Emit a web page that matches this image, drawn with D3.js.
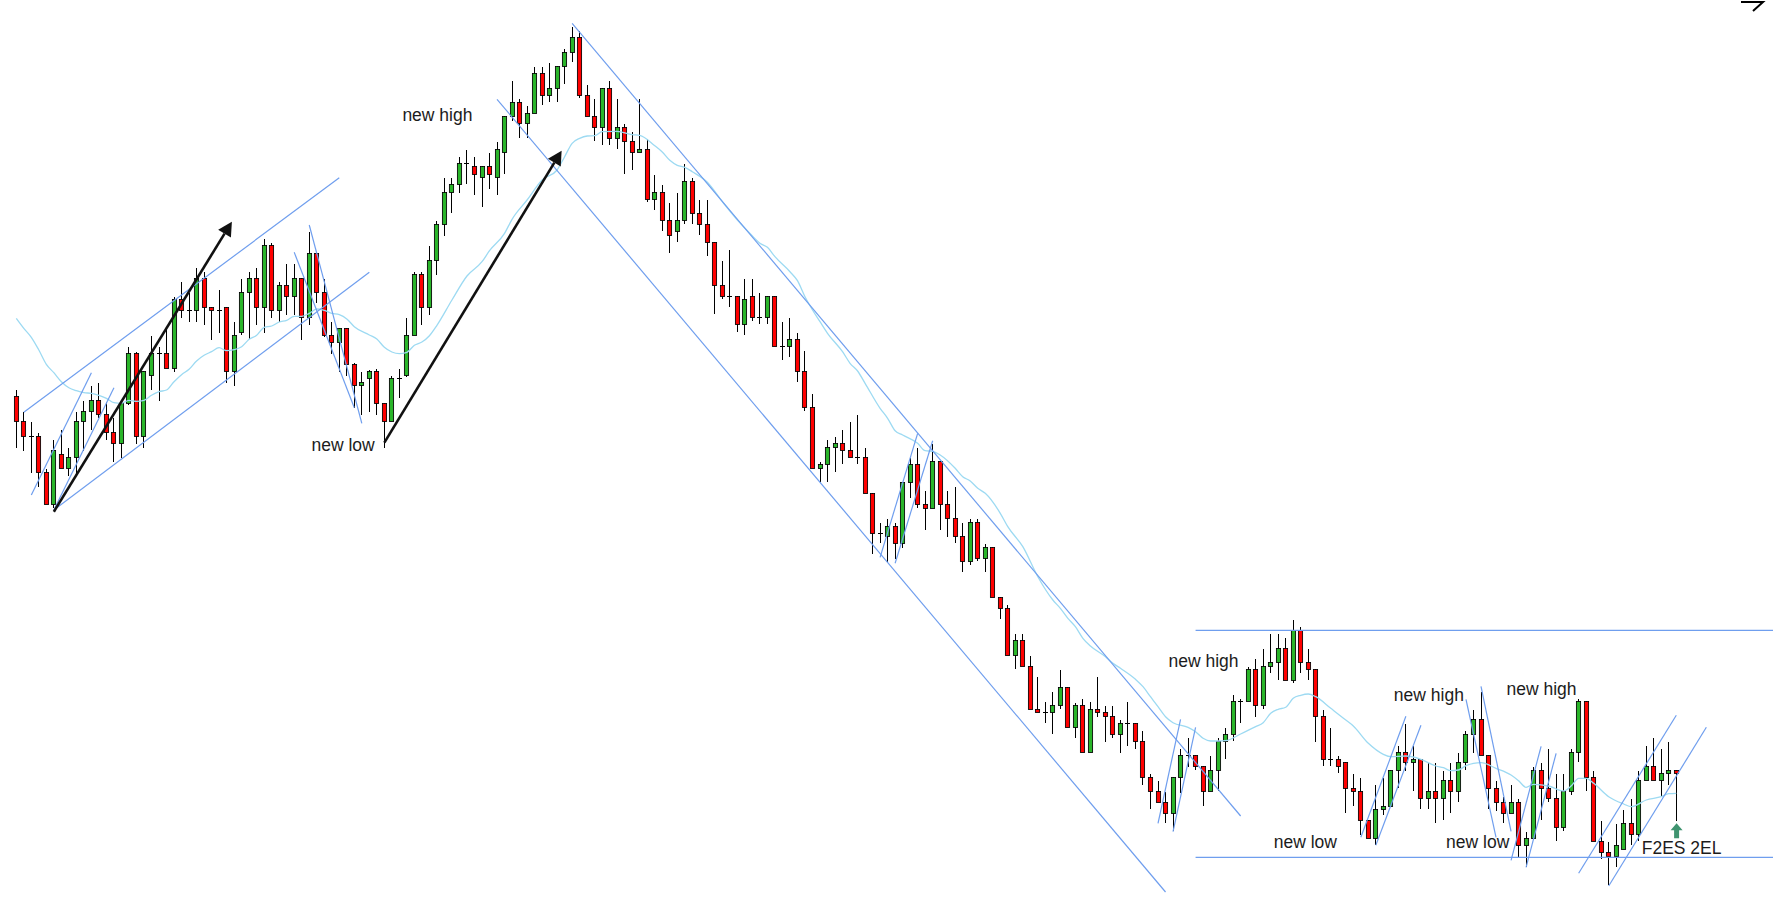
<!DOCTYPE html>
<html>
<head>
<meta charset="utf-8">
<script src="https://cdn.jsdelivr.net/npm/d3@7"></script>
<style>
  html, body { margin: 0; padding: 0; background: #fff; overflow: hidden; }
  svg { display: block; }
  text { font-family: "Liberation Sans", Arial, sans-serif; font-size: 17.5px; fill: #1c1c1c; }
</style>
</head>
<body>
<div id="chart"></div>
<script>
/* DATA, price is in arbitrary chart units */
const opens = [517.3,492.7,477.7,477.7,441.7,409.7,459.7,445.7,456.7,492.7,502.7,513.7,499.7,481.7,470.7,510.7,560.7,477.7,538.7,560.7,
  560.7,545.7,614.7,603.7,603.7,635.7,606.7,603.7,606.7,542.7,581.7,621.7,635.7,606.7,668.7,603.7,628.7,617.7,635.7,596.7,
  660.7,621.7,578.7,571.7,585.7,549.7,528.7,535.7,542.7,510.7,492.7,535.7,538.7,578.7,639.7,606.7,653.7,689.7,721.7,729.7,
  750.7,747.7,736.7,747.7,736.7,761.7,797.7,811.7,790.7,800.7,840.7,818.7,825.7,847.7,861.7,876.7,818.7,797.7,786.7,825.7,
  775.7,786.7,772.7,761.7,764.7,714.7,721.7,693.7,682.7,693.7,732.7,700.7,689.7,671.7,628.7,617.7,617.7,589.7,617.7,596.7,
  596.7,617.7,567.7,567.7,574.7,542.7,506.7,445.7,449.7,466.7,470.7,463.7,456.7,456.7,420.7,380.7,377.7,387.7,370.7,431.7,
  449.7,409.7,405.7,452.7,409.7,395.7,377.7,352.7,391.7,355.7,366.7,316.7,305.7,258.7,273.7,247.7,204.7,201.7,201.7,208.7,
  226.7,186.7,208.7,161.7,204.7,201.7,197.7,179.7,190.7,190.7,172.7,136.7,122.7,111.7,100.7,136.7,158.7,158.7,147.7,122.7,
  143.7,172.7,179.7,212.7,212.7,244.7,208.7,247.7,251.7,265.7,233.7,283.7,251.7,244.7,197.7,154.7,154.7,151.7,125.7,122.7,
  93.7,75.7,104.7,107.7,143.7,161.7,151.7,154.7,115.7,122.7,115.7,133.7,122.7,151.7,179.7,194.7,158.7,125.7,111.7,100.7,
  111.7,68.7,75.7,143.7,125.7,115.7,86.7,122.7,161.7,212.7,136.7,72.7,61.7,57.7,64.7,90.7,79.7,133.7,147.7,133.7,
  140.7,143.7];
const highs = [523.7,501.7,491.7,480.7,444.7,473.7,483.7,466,501.7,512.7,527.7,530.7,511.7,496,514,566.7,562.3,542.7,577.7,566.7,
  586,616.7,631.7,620.7,645.7,641.7,606.7,623.7,606.7,591.7,634.7,641.7,645.7,674.7,670.7,631.7,649.7,649.7,636,681.7,
  660.7,634.7,591.7,585.7,586,550.7,542,544,544.7,510.7,538,544.7,595.7,641.7,641.7,667.7,692.7,735.7,735.7,756.7,
  763.7,756.7,747.7,760.7,771.7,797.7,832.7,814.7,807.7,846.7,846.7,850.7,847.7,864.7,886.7,882.7,828.7,814.7,825.7,832.7,
  814.7,789.7,781.7,814.7,774.7,738.7,728.7,710.7,720.7,749.7,735.7,713.7,713.7,671.7,652.7,663.7,617.7,634.7,634.7,620.7,
  617.7,617.7,591.7,595.7,580.7,562.7,519.7,451.7,473.7,476.7,483.7,491.7,498.7,465.7,420.7,390.7,394.7,390.7,431.7,455.7,
  465.7,422.7,469.7,452.7,422.7,426.7,390.7,394.7,394.7,369.7,366.7,316.7,308.7,279.7,279.7,257.7,236.7,211.7,221.7,243.7,
  226.7,210.7,214.7,211.7,236.7,207.7,207.7,193.7,211.7,190.7,182.7,139.7,132.7,121.7,136.7,165,175.7,158.7,147.7,157.7,
  175.7,185.7,218.7,214.7,246.7,254.7,264.7,279.7,279.7,275.7,293.7,286.7,264.7,244.7,203.7,185.7,157.7,151.7,139.7,135.7,
  93.7,128.7,135.7,143.7,167.7,189.7,167.7,154.7,150.7,150.7,142.7,150.7,160.7,182.7,203.7,221.7,158.7,132.7,117,128.7,
  114.7,81.7,146.7,150.7,164.7,139.7,139.7,164.7,214.7,212.7,142.7,92.7,71.7,89.7,103.7,114.7,142.7,167.7,175.7,164.7,
  171.7,143.7];
const lows = [466.3,463.3,441.3,427.3,409.7,405.7,445.7,438,439,463.3,484.3,495.7,474.3,452.3,456.3,509,469.7,466.3,524,513,
  545.7,542.3,596.3,592.3,592.3,589.3,574.3,581.3,531.3,528.3,578.7,574.7,588.7,581.3,596.3,592.3,598.7,598.7,574,589,
  610.7,577,560,541.7,538.3,506.3,499,502,499,466,492.7,515.7,537,578.7,589,598.7,639,678,700.7,721.3,
  729.7,718.7,707.3,725,718.7,739.7,793.3,775.7,775.7,800.7,808.7,811.7,811.7,829.7,851.7,815.7,797.7,772.7,768.7,768.7,
  764.7,739.7,743.7,761.7,711.7,703.7,682.7,660.7,671.7,689.7,689.7,678.7,657.7,599.7,614.7,606.7,581.7,578.7,592.7,589.7,
  589.7,567.7,553.7,556.7,531.7,502.7,445.7,431.7,431.7,441.7,449.7,456.7,449.7,420.7,359.7,370.7,351.7,355,366.3,415.7,
  405.7,384.3,405.7,384.3,377.3,370.7,341.7,348.7,352.7,341.7,316.7,294.7,258.7,244.7,247.7,204.7,201.7,190.7,179.7,204.7,
  186.7,176.3,161.7,161.7,196.7,172.3,176.3,161.3,168.3,165.3,129.3,104.7,111.7,90.7,82.7,120.7,147.3,143.7,107.7,122.7,
  122.7,154.7,172.7,190.7,212.7,197.3,204.7,240.7,233.7,233.7,230.7,240.7,233.7,172.3,147.7,147.7,140.7,100.7,107.7,78.7,
  75.7,68.7,99,107.7,125.7,143,122.7,104.7,104.7,90.7,93.7,100.7,111.7,143.7,160.7,158.7,104.7,102.7,90.7,100.7,
  56.7,46.7,75.7,93.7,111.7,72.7,82.7,118.7,151.7,122.7,72.7,54.7,28.7,46.7,64.7,68.7,72.7,133.7,133.7,117.7,
  128.7,92.7];
const closes = [492.7,477.7,477.7,441.7,409.7,463.7,445.7,456.7,492.7,502.7,513.7,499.7,481.7,470.7,510.7,560.7,477.7,542.7,560.7,560.7,
  545.7,614.7,603.7,603.7,635.7,606.7,603.7,603.7,542.7,578.7,621.7,635.7,606.7,668.7,603.7,628.7,617.7,635.7,596.7,660.7,
  621.7,578.7,571.7,585.7,549.7,528.7,531.7,542.7,510.7,492.7,535.7,535.7,578.7,639.7,606.7,653.7,689.7,721.7,729.7,750.7,
  750.7,739.7,747.7,739.7,764.7,797.7,811.7,790.7,800.7,840.7,818.7,825.7,847.7,861.7,876.7,818.7,797.7,786.7,825.7,775.7,
  786.7,772.7,761.7,764.7,714.7,721.7,693.7,678.7,693.7,732.7,700.7,689.7,671.7,628.7,617.7,617.7,589.7,614.7,596.7,596.7,
  617.7,567.7,567.7,574.7,542.7,506.7,445.7,449.7,466.7,470.7,463.7,456.7,456.7,420.7,380.7,380.7,387.7,370.7,431.7,449.7,
  409.7,405.7,452.7,409.7,395.7,377.7,352.7,391.7,355.7,366.7,316.7,305.7,258.7,273.7,247.7,204.7,201.7,201.7,208.7,226.7,
  186.7,208.7,161.7,204.7,201.7,197.7,179.7,190.7,190.7,172.7,136.7,122.7,111.7,100.7,136.7,158.7,158.7,147.7,122.7,143.7,
  172.7,179.7,212.7,212.7,244.7,208.7,247.7,251.7,265.7,233.7,283.7,251.7,244.7,197.7,154.7,154.7,147.7,125.7,122.7,93.7,
  75.7,104.7,107.7,143.7,161.7,151.7,154.7,115.7,122.7,115.7,133.7,122.7,151.7,179.7,194.7,158.7,125.7,111.7,100.7,111.7,
  68.7,75.7,143.7,125.7,115.7,86.7,122.7,161.7,212.7,136.7,72.7,61.7,57.7,68.7,90.7,79.7,133.7,147.7,133.7,140.7,
  143.7,140.7];

// moving average, read at these bars only
const maBars = [0,1,2,3,4,5,6,7,8,9,10,11,12,13,14,15,16,17,18,19,20,21,22,23,24,25,26,27,28,29,30,31,32,33,34,35,36,37,38,39,40,41,42,43,44,45,
  47,48,49,50,51,52,53,54,55,56,58,60,62,63,65,66,68,70,72,73,74,75,76,77,78,80,82,83,85,86,87,88,89,90,92,94,96,98,99,100,101,103,104,105,106,107,108,
  110,111,112,113,115,116,117,118,120,121,122,123,125,126,127,128,129,131,132,134,136,138,139,140,141,142,143,145,146,147,149,150,151,152,153,154,156,157,158,159,160,161,163,
  165,166,167,168,169,170,171,172,173,175,177,178,180,182,183,185,187,189,190,191,192,193,194,195,197,199,200,201,202,204,206,207,208,209,210,212,214,215,217,219,220,221];
const maVals = [595.7,585.7,576.7,564,549.7,541.3,532.3,526.3,523.3,521.3,520.7,518.7,515.7,511.3,510.7,513.7,512.7,513.7,518.7,522.3,524,532.3,539.3,544.7,553,558.7,562.3,566.3,563.3,564.3,567.3,574.7,578.7,586.7,588,592,593.7,597.7,597.7,600.7,605,603.7,600.7,599.3,595,587.3,
  579,575,566.7,562,560.3,561.7,568.7,572,578.3,588.7,614,638,652.3,663.3,680.7,694.7,714,734,744,757.3,770.7,775.7,778,778.3,782.3,782.7,779.3,778.7,768.3,762,753.7,748.7,746.7,742.3,731.7,712.3,694,678,670.7,666.7,657.3,642.3,633.3,617.3,604,592.3,580.7,
  562.3,550.7,543,530.7,505.7,495.7,483.3,479,470.7,463.3,462.7,459,445.7,437.3,433,425.7,420.7,400.7,387.3,367.3,337.3,314,305.7,295.7,287.3,275.7,268,257.3,250.7,245.7,234.7,227.3,217.3,207.3,197.3,191.3,186.7,182.3,175.7,173,173,173.3,180,
  187.3,191.3,200.7,204.7,206.7,215.7,218.7,220,217.3,205.7,194,188,170.7,159.7,157.3,158,154.7,148,146.3,143.3,144,148.3,150.7,151.3,145.7,139,133.3,126.7,129.7,128,123,128,135.7,135.7,130.7,117.3,110,107.3,114,117.3,120.3,120.7];

// trend lines: [bar, price, bar, price]
const channelLines = [
  [1,501.7,43,736.3],[5,404,47,641.7],[2,419,10,541.3],[5,404,13,526.3],
  [37,661.7,45,506.3],[39,689,46,490.7],
  [74,890.7,163,98],[64,814.7,153,22],
  [115,356.7,120,480.7],[117,350.7,122,473.3],
  [152,90.7,155,194.7],[154,82.3,157,186.7],
  [157,283.7,234,283.7],[157,56.7,234,56.7],
  [179,76.7,185,197.7],[181,68.7,187,188.7],
  [193,214.7,197,76.7],[195,227.7,199,82.7],
  [199,53.7,203,167.7],[201,46.7,205,160.7],
  [208,40.7,221,198.7],[212,28,225,186.7]
];
const blackArrows = [[5,402.3,28.7,692.3],[49,471.3,72.6,763.3]];
const labels = [
  ["new high",51.4,793.4],["new low",39.3,462.9],["new high",153.4,247.3],["new low",167.4,66],
  ["new high",183.4,213.3],["new high",198.4,219],["new low",190.35,66.5],["F2ES 2EL",216.4,60]
];
const entryBar = 221, entryTip = 90.7, entryBase = 75.7;

/* CONSTANTS AND GLOBALS */
const width = 1773, height = 914;
const upColor = "#2ab52a", downColor = "#ff0000";
const lineColor = "#6f9eee", maColor = "#9ddaf2";

const xScale = d3.scaleLinear().domain([0, 221]).range([16.3, 1676.3]);
const yScale = d3.scaleLinear().domain([0, 914]).range([914, 0]);
const snap = v => Math.floor(v) + 0.5; // keep candles on whole pixels

const svg = d3.select("#chart").append("svg")
  .attr("width", width)
  .attr("height", height)
  .attr("viewBox", `0 0 ${width} ${height}`);

const candles = opens.map((o, i) => ({ i, o, h: highs[i], l: lows[i], c: closes[i] }));

// wicks
svg.append("g").attr("shape-rendering", "crispEdges").selectAll("line")
  .data(candles)
  .join("line")
  .attr("x1", d => snap(xScale(d.i)))
  .attr("x2", d => snap(xScale(d.i)))
  .attr("y1", d => yScale(d.h))
  .attr("y2", d => yScale(d.l))
  .attr("stroke", "#000")
  .attr("stroke-width", 1);

// bodies
svg.append("g").selectAll("rect")
  .data(candles.filter(d => d.o !== d.c))
  .join("rect")
  .attr("x", d => snap(xScale(d.i)) - 2.1)
  .attr("width", 4.2)
  .attr("y", d => snap(yScale(Math.max(d.o, d.c))))
  .attr("height", d => snap(yScale(Math.min(d.o, d.c))) - snap(yScale(Math.max(d.o, d.c))))
  .attr("fill", d => d.c > d.o ? upColor : downColor)
  .attr("stroke", "#000")
  .attr("stroke-width", 0.85);

// dojis are just a tick
svg.append("g").attr("shape-rendering", "crispEdges").selectAll("line")
  .data(candles.filter(d => d.o === d.c))
  .join("line")
  .attr("x1", d => snap(xScale(d.i)) - 2.5)
  .attr("x2", d => snap(xScale(d.i)) + 2.5)
  .attr("y1", d => snap(yScale(d.o)))
  .attr("y2", d => snap(yScale(d.o)))
  .attr("stroke", "#000")
  .attr("stroke-width", 1);

// moving average
const maLine = d3.line()
  .x((d, i) => xScale(maBars[i]))
  .y(d => yScale(d))
  .curve(d3.curveMonotoneX);

svg.append("path")
  .attr("d", maLine(maVals))
  .attr("fill", "none")
  .attr("stroke", maColor)
  .attr("stroke-width", 1.3);

// channels and trend lines
svg.append("g").selectAll("line")
  .data(channelLines)
  .join("line")
  .attr("x1", d => xScale(d[0]))
  .attr("y1", d => yScale(d[1]))
  .attr("x2", d => xScale(d[2]))
  .attr("y2", d => yScale(d[3]))
  .attr("stroke", lineColor)
  .attr("stroke-width", 1.2);

// black arrows
const arrows = svg.append("g");
blackArrows.forEach(d => {
  const x1 = xScale(d[0]), y1 = yScale(d[1]), x2 = xScale(d[2]), y2 = yScale(d[3]);
  const a = Math.atan2(y2 - y1, x2 - x1);
  const bx = x2 - 14 * Math.cos(a), by = y2 - 14 * Math.sin(a);
  arrows.append("line")
    .attr("x1", x1).attr("y1", y1).attr("x2", bx).attr("y2", by)
    .attr("stroke", "#111").attr("stroke-width", 2.6);
  arrows.append("path")
    .attr("d", d3.line()([
      [x2, y2],
      [bx + 7.5 * Math.sin(a), by - 7.5 * Math.cos(a)],
      [bx - 7.5 * Math.sin(a), by + 7.5 * Math.cos(a)]
    ]) + "Z")
    .attr("fill", "#111");
});

// green entry arrow under the last bar
const ex = xScale(entryBar) + 0.3, eTip = yScale(entryTip), eBase = yScale(entryBase);
svg.append("path")
  .attr("d", d3.line()([
    [ex, eTip], [ex + 6, eTip + 7], [ex + 2.5, eTip + 7], [ex + 2.5, eBase],
    [ex - 2.5, eBase], [ex - 2.5, eTip + 7], [ex - 6, eTip + 7]
  ]) + "Z")
  .attr("fill", "#3f9470");

// labels
svg.append("g").selectAll("text")
  .data(labels)
  .join("text")
  .attr("x", d => xScale(d[1]))
  .attr("y", d => yScale(d[2]))
  .text(d => d[0]);

// arrow cut off in the top right corner
svg.append("path")
  .attr("d", "M1741,2H1763L1753,11")
  .attr("fill", "none")
  .attr("stroke", "#000")
  .attr("stroke-width", 2);
</script>
</body>
</html>
